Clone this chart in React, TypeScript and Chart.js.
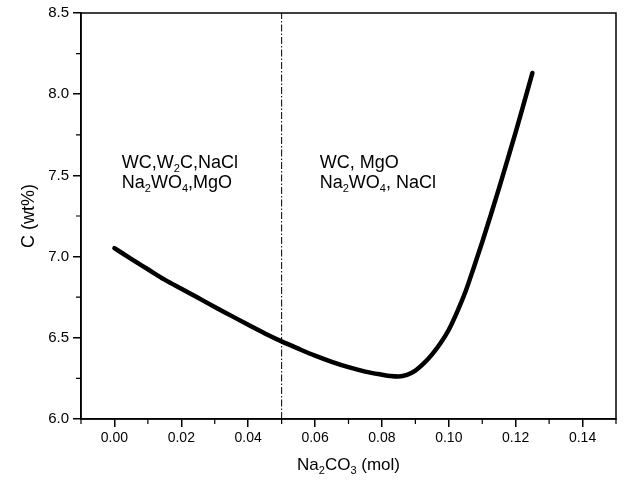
import React, { useEffect, useRef } from 'react';
import { Chart, registerables } from 'chart.js';

Chart.register(...registerables);

// ---- data ----
const curveX = [0, 0.005, 0.01, 0.015, 0.02, 0.025, 0.03, 0.035, 0.04, 0.045, 0.05, 0.055, 0.06, 0.065, 0.07, 0.075, 0.08, 0.0825, 0.085, 0.0875, 0.09, 0.0925, 0.095, 0.0975, 0.1, 0.1025, 0.105, 0.1075, 0.11, 0.1125, 0.115, 0.1175, 0.12, 0.1225, 0.125];
const curveY = [7.052, 6.986, 6.922, 6.858, 6.802, 6.746, 6.69, 6.635, 6.58, 6.527, 6.478, 6.433, 6.39, 6.352, 6.319, 6.292, 6.273, 6.265, 6.262, 6.272, 6.298, 6.342, 6.398, 6.466, 6.55, 6.66, 6.785, 6.935, 7.09, 7.253, 7.42, 7.593, 7.767, 7.948, 8.131];

const boundaryX = 0.05;

const xMin = -0.01;
const xMax = 0.15;
const yMin = 6.0;
const yMax = 8.5;

const xMajorTicks = [0, 0.02, 0.04, 0.06, 0.08, 0.1, 0.12, 0.14];
const xMinorTicks = [-0.01, 0.01, 0.03, 0.05, 0.07, 0.09, 0.11, 0.13, 0.15];
const yMajorTicks = [6.0, 6.5, 7.0, 7.5, 8.0, 8.5];
const yMinorTicks = [6.25, 6.75, 7.25, 7.75, 8.25];

const xTitle = 'Na_2CO_3 (mol)';
const yTitle = 'C (wt%)';

// region labels: text lines, anchored at data coordinates
const leftLabelLines = ['WC,W_2C,NaCl', 'Na_2WO_4,MgO'];
const rightLabelLines = ['WC, MgO', 'Na_2WO_4, NaCl'];
const leftLabelX = 0.0022;
const rightLabelX = 0.0614;
const labelLineY = [7.548, 7.42];

const FONT = '"Liberation Sans", Arial, Helvetica, sans-serif';

type Seg = { t: string; sub: boolean };
function parseRich(s: string): Seg[] {
  const out: Seg[] = [];
  let buf = '';
  for (let i = 0; i < s.length; i++) {
    if (s[i] === '_' && i + 1 < s.length) {
      if (buf) out.push({ t: buf, sub: false });
      buf = '';
      out.push({ t: s[i + 1], sub: true });
      i++;
    } else {
      buf += s[i];
    }
  }
  if (buf) out.push({ t: buf, sub: false });
  return out;
}

function richWidth(ctx: CanvasRenderingContext2D, s: string, size: number) {
  let w = 0;
  for (const seg of parseRich(s)) {
    ctx.font = `${seg.sub ? Math.round(size * 0.62) : size}px ${FONT}`;
    w += ctx.measureText(seg.t).width;
  }
  return w;
}

function drawRich(ctx: CanvasRenderingContext2D, s: string, x: number, y: number, size: number) {
  let cx = x;
  ctx.textBaseline = 'alphabetic';
  ctx.textAlign = 'left';
  for (const seg of parseRich(s)) {
    const fs = seg.sub ? Math.round(size * 0.62) : size;
    ctx.font = `${fs}px ${FONT}`;
    ctx.fillText(seg.t, cx, seg.sub ? y + size * 0.22 : y);
    cx += ctx.measureText(seg.t).width;
  }
}

const decorPlugin = {
  id: 'decor',
  afterDraw(chart: any) {
    const ctx: CanvasRenderingContext2D = chart.ctx;
    const { left, right, top, bottom } = chart.chartArea;
    const xs = chart.scales.x;
    const ys = chart.scales.y;
    ctx.save();
    ctx.strokeStyle = '#000';
    ctx.fillStyle = '#000';
    // frame
    ctx.lineWidth = 1.5;
    ctx.strokeRect(left, top, right - left, bottom - top);
    // minor ticks
    ctx.lineWidth = 1.2;
    ctx.beginPath();
    for (const v of xMinorTicks) {
      const px = xs.getPixelForValue(v);
      ctx.moveTo(px, bottom);
      ctx.lineTo(px, bottom + 5);
    }
    for (const v of yMinorTicks) {
      const py = ys.getPixelForValue(v);
      ctx.moveTo(left, py);
      ctx.lineTo(left - 5, py);
    }
    ctx.stroke();
    // region labels
    const lblSize = 18;
    leftLabelLines.forEach((s, i) => {
      drawRich(ctx, s, xs.getPixelForValue(leftLabelX), ys.getPixelForValue(labelLineY[i]), lblSize);
    });
    rightLabelLines.forEach((s, i) => {
      drawRich(ctx, s, xs.getPixelForValue(rightLabelX), ys.getPixelForValue(labelLineY[i]), lblSize);
    });
    // axis titles
    const tSize = 17;
    const xw = richWidth(ctx, xTitle, tSize);
    drawRich(ctx, xTitle, (left + right) / 2 - xw / 2, 470, tSize);
    ctx.save();
    ctx.translate(34, (top + bottom) / 2);
    ctx.rotate(-Math.PI / 2);
    const ySize = 18;
    const yw = richWidth(ctx, yTitle, ySize);
    drawRich(ctx, yTitle, -yw / 2, 0, ySize);
    ctx.restore();
    ctx.restore();
  },
};

export default function App() {
  const ref = useRef<HTMLCanvasElement | null>(null);
  useEffect(() => {
    if (!ref.current) return;
    const chart = new Chart(ref.current, {
      type: 'line',
      data: {
        datasets: [
          {
            data: curveX.map((x, i) => ({ x, y: curveY[i] })),
            borderColor: '#000',
            borderWidth: 4.5,
            pointRadius: 0,
            cubicInterpolationMode: 'monotone',
            borderCapStyle: 'round',
            borderJoinStyle: 'round',
            fill: false,
          },
          {
            data: [
              { x: boundaryX, y: yMin },
              { x: boundaryX, y: yMax },
            ],
            borderColor: '#000',
            borderWidth: 1,
            borderDash: [7, 2, 1.5, 2],
            pointRadius: 0,
            fill: false,
          },
        ],
      },
      options: {
        animation: false,
        responsive: false,
        devicePixelRatio: 1,
        layout: { padding: { left: 0, right: 8, top: 13, bottom: 0 } },
        plugins: { legend: { display: false }, tooltip: { enabled: false } },
        scales: {
          x: {
            type: 'linear',
            min: xMin,
            max: xMax,
            afterBuildTicks: (scale: any) => {
              scale.ticks = xMajorTicks.map((v) => ({ value: v }));
            },
            afterFit: (scale: any) => {
              scale.height = 63;
            },
            ticks: {
              callback: (v: any) => Number(v).toFixed(2),
              color: '#000',
              font: { family: FONT, size: 14 },
              padding: 3,
              maxRotation: 0,
              autoSkip: false,
            },
            grid: { drawOnChartArea: false, drawTicks: true, tickLength: 8, color: '#000', lineWidth: 1.5 },
            border: { display: true, color: '#000', width: 1.5 },
          },
          y: {
            type: 'linear',
            min: yMin,
            max: yMax,
            afterBuildTicks: (scale: any) => {
              scale.ticks = yMajorTicks.map((v) => ({ value: v }));
            },
            afterFit: (scale: any) => {
              scale.width = 81;
            },
            ticks: {
              callback: (v: any) => Number(v).toFixed(1),
              color: '#000',
              font: { family: FONT, size: 15 },
              padding: 4,
              autoSkip: false,
            },
            grid: { drawOnChartArea: false, drawTicks: true, tickLength: 8, color: '#000', lineWidth: 1.5 },
            border: { display: true, color: '#000', width: 1.5 },
          },
        },
      },
      plugins: [decorPlugin],
    } as any);
    return () => chart.destroy();
  }, []);
  return (
    <div style={{ position: 'absolute', left: 0, top: 0, width: 624, height: 482, background: '#fff' }}>
      <canvas ref={ref} width={624} height={482} />
    </div>
  );
}
